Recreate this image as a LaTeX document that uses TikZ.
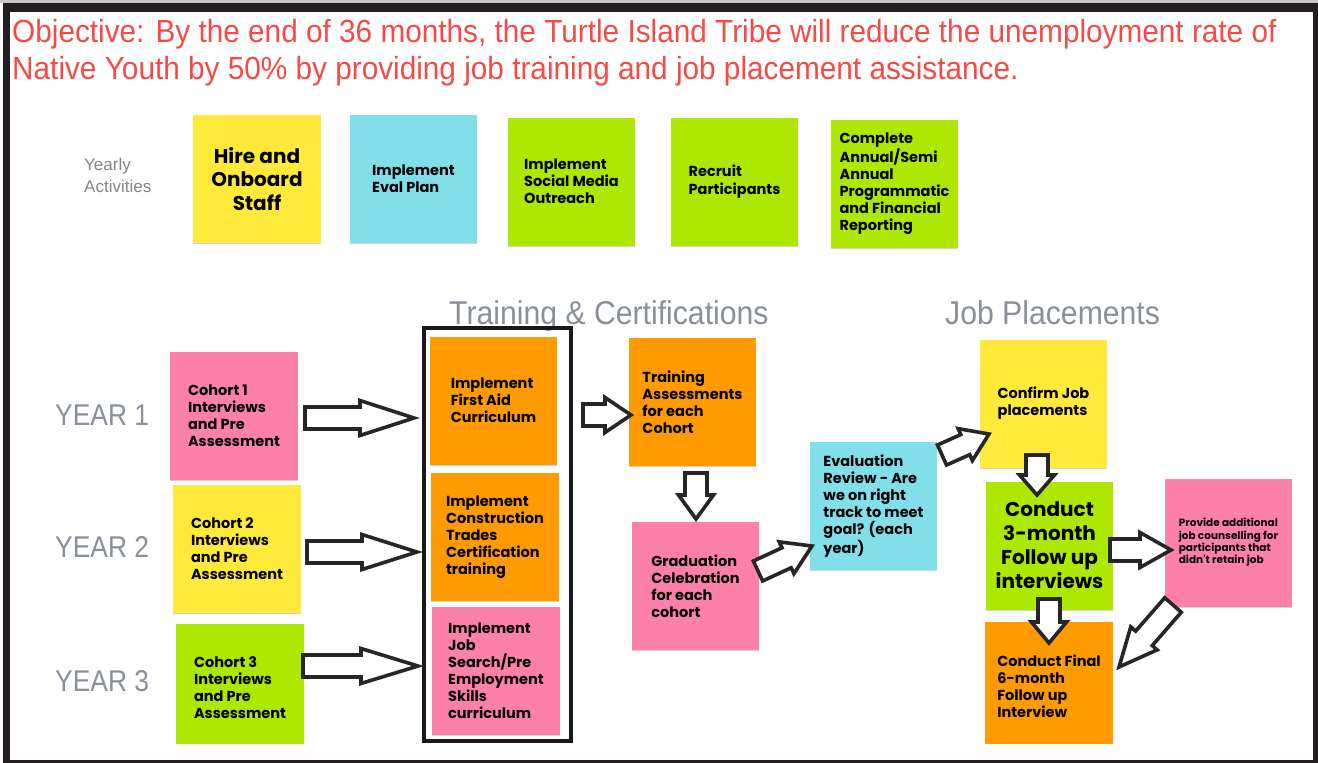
\documentclass[tikz,border=0pt]{standalone}
\usepackage{fontspec}
\usetikzlibrary{calc,shadows}
\newfontfamily\rob{Liberation Sans}[FakeStretch=0.88]
\newfontfamily\robt{Liberation Sans}[FakeStretch=0.93]
\newfontfamily\robh{Liberation Sans}[FakeStretch=0.915]
\newfontfamily\roby{Liberation Sans}
\newfontfamily\mont{Poppins}
\definecolor{sy}{HTML}{FFEA3C}
\definecolor{sc}{HTML}{80DFE9}
\definecolor{sg}{HTML}{AEE800}
\definecolor{sp}{HTML}{FD80AB}
\definecolor{so}{HTML}{FF9B00}
\definecolor{tred}{HTML}{F44B46}
\definecolor{lgray}{HTML}{8A9099}
\definecolor{ygray}{HTML}{858585}
\definecolor{framec}{HTML}{231F20}
\tikzset{
  note/.style={rectangle, inner sep=0pt, minimum width=128pt, minimum height=128pt,
    align=left, text=black, font=\mont\bfseries\fontsize{14.5}{17}\selectfont,
    drop shadow={shadow xshift=0pt, shadow yshift=-1.2pt, fill=black!18, opacity=1}},
  bignote/.style={note, align=center, font=\mont\bfseries\fontsize{20}{23.5}\selectfont},
  smallnote/.style={note, font=\mont\bfseries\fontsize{10.5}{12.3}\selectfont},
  titletext/.style={anchor=base west, inner sep=0pt, text=tred, font=\robt\fontsize{32}{37}\selectfont},
  graylabel/.style={anchor=base west, inner sep=0pt, text=lgray, font=\rob\fontsize{30}{36}\selectfont},
  headlabel/.style={anchor=base west, inner sep=0pt, text=lgray, font=\robh\fontsize{33}{38}\selectfont},
  smallgray/.style={anchor=base west, inner sep=0pt, text=ygray, font=\roby\fontsize{17}{22}\selectfont},
  blockarr/.style={draw=black!85, line width=3.6pt, fill=white, line join=miter},
  groupbox/.style={draw=black!90, line width=3.8pt, fill=none, inner sep=0pt}
}
\newcommand\blockarrow[3]{%
  \coordinate (bh) at ($(#2)!#3pt!(#1)$);
  \draw[blockarr] ($(#1)!11pt!90:(#2)$) -- ($(bh)!11pt!90:(#2)$) -- ($(bh)!17.5pt!90:(#2)$)
    -- (#2) -- ($(bh)!17.5pt!-90:(#2)$) -- ($(bh)!11pt!-90:(#2)$) -- ($(#1)!11pt!-90:(#2)$) -- cycle;}
\begin{document}
\begin{tikzpicture}[x=1pt,y=-1pt]
\useasboundingbox (0,0) rectangle (1318,763);
% frame
\fill[black!22] (0,0) rectangle (1318,3);
\fill[framec] (3,3) rectangle (1318,763);
\fill[white] (10,12) rectangle (1313,760);
% title
\node[titletext] (title1) at (12,42) {Objective: By the end of 36 months, the Turtle Island Tribe will reduce the unemployment rate of};
\node[titletext] (title2) at (12,79) {Native Youth by 50\% by providing job training and job placement assistance.};
% yearly activities
\node[smallgray] (ya1) at (84,170) {Yearly};
\node[smallgray] (ya2) at (84,192) {Activities};
\node[note, bignote, fill=sy] (hire) at (257,179) {Hire and\\Onboard\\Staff};
\node[note, fill=sc, minimum width=127pt] (evalp) at (413.5,179) {Implement\\Eval Plan};
\node[note, fill=sg, minimum width=127pt] (social) at (571.5,181.5) {Implement\\Social Media\\Outreach};
\node[note, fill=sg, minimum width=127pt, font=\mont\bfseries\fontsize{14.5}{18}\selectfont] (recruit) at (734.5,181.5) {Recruit\\Participants};
\node[note, fill=sg, minimum width=127pt] (complete) at (894.5,183.5) {Complete\\Annual/Semi\\Annual\\Programmatic\\and Financial\\Reporting};
% headers
\node[headlabel] (hdrtc) at (449,324) {Training \& Certifications};
\node[headlabel] (hdrjp) at (945,324) {Job Placements};
\node[graylabel] (y1) at (55,425) {YEAR 1};
\node[graylabel] (y2) at (55,557) {YEAR 2};
\node[graylabel] (y3) at (55,691) {YEAR 3};
\begin{scope}
\clip (0,0) rectangle (1318,743);
% cohorts
\node[note, fill=sp] (c1) at (234,416) {Cohort 1\\Interviews\\and Pre\\Assessment};
\node[note, fill=sy] (c2) at (237,549) {Cohort 2\\Interviews\\and Pre\\Assessment};
\node[note, fill=sg] (c3) at (240,688) {Cohort 3\\Interviews\\and Pre\\Assessment};
% training group
\node[groupbox, minimum width=147pt, minimum height=413pt] (tc) at (497.5,534.5) {};
\node[note, fill=so, minimum width=127pt] (fa) at (493.5,400.5) {Implement\\First Aid\\Curriculum};
\node[note, fill=so] (ct) at (495,537) {Implement\\Construction\\Trades\\Certification\\training};
\node[note, fill=sp] (js) at (496,671) {Implement\\Job\\Search/Pre\\Employment\\Skills\\curriculum};
\node[note, fill=so, minimum width=127pt] (ta) at (692.5,402) {Training\\Assessments\\for each\\Cohort};
\node[note, fill=sp, minimum width=127pt] (grad) at (695.5,586) {Graduation\\Celebration\\for each\\cohort};
\node[note, fill=sc, minimum width=127pt] (evr) at (873.5,506) {Evaluation\\Review - Are\\we on right\\track to meet\\goal? (each\\year)};
\node[note, fill=sy, minimum width=127pt] (cj) at (1043.5,403.5) {Confirm Job\\placements};
\node[note, bignote, fill=sg, minimum width=127pt, font=\mont\bfseries\fontsize{20}{24}\selectfont] (c3m) at (1049.5,545.5) {Conduct\\3-month\\Follow up\\interviews};
\node[note, smallnote, fill=sp, minimum width=127pt] (prov) at (1228.5,542.5) {Provide additional\\job counselling for\\participants that\\didn't retain job};
\node[note, fill=so] (fin) at (1049,686) {Conduct Final\\6-month\\Follow up\\Interview};
% connector end points
\coordinate (a1s) at (305,418); \coordinate (a1e) at (414,418);
\coordinate (a2s) at (307,552); \coordinate (a2e) at (417,552);
\coordinate (a3s) at (303,666); \coordinate (a3e) at (418,666);
\coordinate (a4s) at (583,415); \coordinate (a4e) at (631,415);
\coordinate (a5s) at (696,473); \coordinate (a5e) at (696,519);
\coordinate (a6s) at (758,571); \coordinate (a6e) at (812,546);
\coordinate (a7s) at (942,455); \coordinate (a7e) at (989,434);
\coordinate (a8s) at (1037,455); \coordinate (a8e) at (1037,495);
\coordinate (a9s) at (1110,550); \coordinate (a9e) at (1171,550);
\coordinate (a10s) at (1049,599); \coordinate (a10e) at (1049,643);
\coordinate (a11s) at (1173,605); \coordinate (a11e) at (1119,667);
\blockarrow{a1s}{a1e}{54}
\blockarrow{a2s}{a2e}{55}
\blockarrow{a3s}{a3e}{57}
\blockarrow{a4s}{a4e}{26}
\blockarrow{a5s}{a5e}{24}
\blockarrow{a6s}{a6e}{28}
\blockarrow{a7s}{a7e}{26}
\blockarrow{a8s}{a8e}{20}
\blockarrow{a9s}{a9e}{31}
\blockarrow{a10s}{a10e}{21}
\blockarrow{a11s}{a11e}{38}
\end{scope}
\end{tikzpicture}
\end{document}
